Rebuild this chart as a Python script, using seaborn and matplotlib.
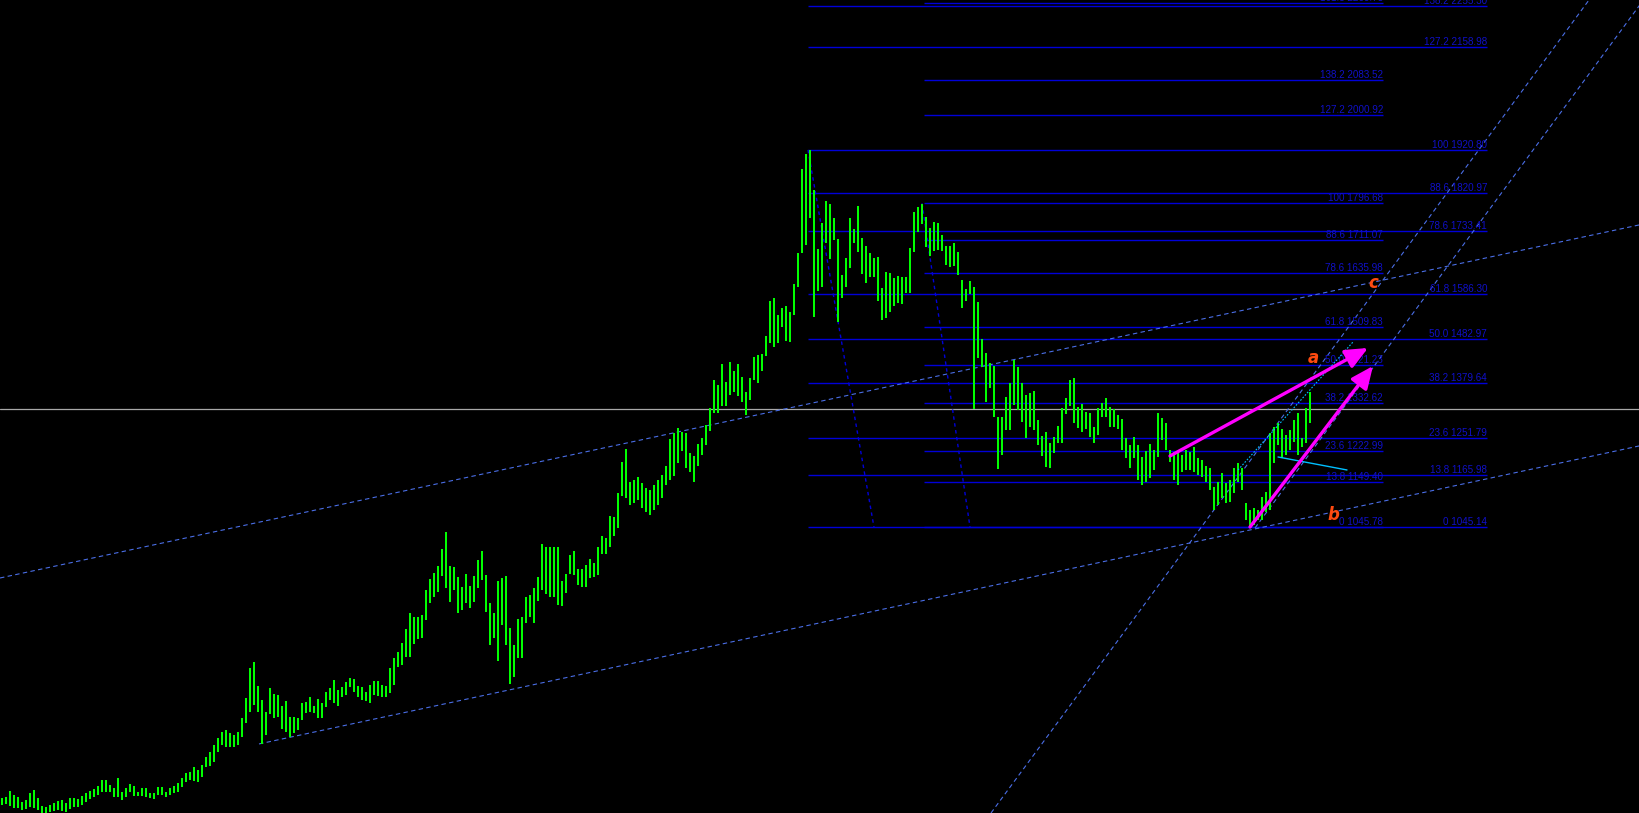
import matplotlib
matplotlib.use('Agg')
from matplotlib import pyplot as plt
import seaborn as sns
import numpy as np

# bar highs / lows (one bar every 4 px of the original chart)
HIGHS = [417, 419, 433, 424, 419, 408, 412, 429, 436, 417, 398, 396, 401, 405, 410, 412, 405, 417, 417, 415,
         422, 429, 433, 438, 445, 459, 459, 447, 440, 463, 431, 440, 449, 445, 431, 440, 440, 429, 429, 443,
         443, 431, 440, 445, 452, 463, 475, 477, 489, 482, 494, 512, 524, 540, 556, 570, 575, 568, 563, 570,
         603, 649, 719, 733, 677, 644, 617, 672, 658, 656, 630, 642, 605, 605, 603, 637, 640, 651, 630, 647,
         637, 663, 672, 691, 668, 675, 686, 695, 693, 677, 675, 663, 679, 688, 688, 679, 677, 719, 742, 756,
         777, 809, 846, 837, 837, 842, 900, 925, 939, 955, 995, 1034, 955, 953, 930, 907, 937, 909, 932, 969,
         990, 934, 870, 846, 921, 928, 932, 812, 772, 832, 837, 883, 888, 904, 930, 1006, 999, 999, 999, 999,
         921, 937, 981, 990, 948, 948, 958, 972, 962, 999, 1025, 1020, 1071, 1069, 1125, 1197, 1227, 1150, 1155, 1162,
         1148, 1136, 1132, 1143, 1155, 1167, 1187, 1250, 1264, 1276, 1266, 1264, 1218, 1211, 1238, 1252, 1283, 1322, 1387, 1375,
         1424, 1382, 1429, 1408, 1424, 1394, 1359, 1392, 1440, 1445, 1447, 1489, 1570, 1577, 1538, 1554, 1559, 1545, 1610, 1682,
         1877, 1911, 1920, 1828, 1691, 1751, 1802, 1795, 1763, 1714, 1631, 1670, 1763, 1737, 1791, 1716, 1698, 1682, 1670, 1672,
         1600, 1638, 1635, 1624, 1628, 1626, 1626, 1693, 1777, 1788, 1796, 1765, 1740, 1754, 1751, 1723, 1698, 1698, 1705, 1684,
         1619, 1598, 1617, 1603, 1568, 1482, 1450, 1426, 1419, 1301, 1301, 1348, 1380, 1433, 1417, 1380, 1352, 1357, 1361, 1294,
         1257, 1266, 1241, 1255, 1280, 1322, 1345, 1387, 1392, 1324, 1331, 1313, 1310, 1278, 1322, 1334, 1345, 1324, 1320, 1306,
         1296, 1252, 1236, 1255, 1236, 1208, 1222, 1238, 1225, 1310, 1299, 1287, 1225, 1220, 1220, 1213, 1225, 1220, 1232, 1206,
         1201, 1187, 1183, 1139, 1150, 1171, 1148, 1155, 1183, 1194, 1183, 1102, 1085, 1090, 1085, 1115, 1127, 1264, 1278, 1287,
         1273, 1259, 1271, 1294, 1310, 1252, 1322, 1359]
LOWS = [401, 402, 398, 394, 394, 389, 391, 396, 394, 389, 383, 383, 385, 387, 389, 387, 385, 391, 396, 396,
        401, 408, 415, 419, 424, 431, 431, 431, 419, 419, 412, 419, 431, 422, 422, 422, 419, 417, 415, 424,
        424, 419, 424, 429, 431, 443, 454, 459, 456, 454, 466, 489, 491, 501, 524, 540, 535, 535, 535, 540,
        559, 591, 617, 633, 617, 542, 563, 612, 603, 605, 577, 570, 559, 568, 575, 598, 614, 617, 614, 603,
        603, 628, 644, 637, 630, 651, 656, 675, 663, 651, 644, 642, 637, 656, 654, 651, 651, 661, 679, 721,
        726, 744, 744, 774, 786, 788, 830, 870, 883, 895, 932, 904, 872, 900, 846, 853, 870, 858, 872, 904,
        923, 849, 772, 788, 735, 819, 772, 682, 698, 742, 742, 823, 837, 823, 874, 900, 890, 883, 883, 865,
        863, 893, 937, 934, 911, 907, 907, 928, 930, 934, 983, 983, 999, 1025, 1044, 1118, 1113, 1097, 1102, 1109,
        1090, 1081, 1074, 1085, 1097, 1113, 1143, 1155, 1164, 1194, 1222, 1183, 1174, 1150, 1187, 1213, 1236, 1269, 1310, 1310,
        1327, 1327, 1352, 1359, 1350, 1336, 1306, 1341, 1387, 1380, 1408, 1443, 1473, 1464, 1473, 1510, 1477, 1475, 1538, 1603,
        1682, 1700, 1763, 1533, 1593, 1603, 1705, 1668, 1712, 1522, 1577, 1603, 1647, 1705, 1684, 1633, 1612, 1626, 1626, 1570,
        1526, 1531, 1545, 1559, 1566, 1563, 1589, 1589, 1684, 1730, 1749, 1696, 1675, 1686, 1689, 1686, 1654, 1649, 1651, 1631,
        1554, 1570, 1586, 1320, 1438, 1417, 1336, 1368, 1301, 1180, 1213, 1271, 1271, 1329, 1317, 1290, 1252, 1278, 1271, 1236,
        1211, 1185, 1183, 1218, 1241, 1241, 1308, 1327, 1287, 1276, 1266, 1273, 1255, 1241, 1259, 1301, 1301, 1278, 1278, 1273,
        1225, 1206, 1183, 1206, 1155, 1143, 1150, 1160, 1178, 1208, 1248, 1225, 1197, 1155, 1143, 1174, 1178, 1178, 1174, 1167,
        1162, 1150, 1132, 1085, 1097, 1113, 1102, 1104, 1125, 1150, 1132, 1062, 1045, 1051, 1062, 1062, 1081, 1085, 1194, 1236,
        1206, 1213, 1225, 1243, 1213, 1232, 1241, 1287]

BID_PRICE = 1319.6

# fibonacci set drawn from the 1920.80 high
FIB_A_LEVELS = ["0", "13.8", "23.6", "38.2", "50.0", "61.8", "78.6", "88.6", "100", "127.2", "138.2"]
FIB_A_PRICES = [1045.14, 1165.98, 1251.79, 1379.64, 1482.97, 1586.30, 1733.41, 1820.97, 1920.80, 2158.98, 2255.30]
FIB_A_SPAN = (201.5, 371.25)
FIB_A_ANCHORS = [(201.5, 1920.80), (218.0, 1045.14)]

# fibonacci set drawn from the 1796.68 high
FIB_B_LEVELS = ["0", "13.8", "23.6", "38.2", "50.0", "61.8", "78.6", "88.6", "100", "127.2", "138.2", "161.8"]
FIB_B_PRICES = [1045.78, 1149.40, 1222.99, 1332.62, 1421.23, 1509.83, 1635.98, 1711.07, 1796.68, 2000.92, 2083.52, 2260.73]
FIB_B_SPAN = (230.5, 345.25)
FIB_B_ANCHORS = [(230.0, 1796.68), (242.0, 1045.78)]

# trend lines: (bar, price) pairs
CHANNEL_TOP = [(-0.5, 927.5), (409.25, 1746.6)]
CHANNEL_BOTTOM = [(64.25, 542.4), (409.25, 1233.8)]
STEEP_LINE = [(247.25, 382.2), (396.75, 2268.6)]
STEEP_RAY = [(313.25, 1043.5), (374.5, 1816.2)]
CYAN_DOTTED = [(309.0, 1178.1), (337.75, 1475.1)]
CYAN_SOLID = [(319.0, 1208.3), (336.25, 1178.1)]
ARROWS = [((292.0, 1210.6), (341.5, 1461.2)), ((312.0, 1045.8), (342.75, 1419.4))]
WAVE_LABELS = ["a", "b", "c"]
WAVE_POS = [(327.75, 1438.0), (332.75, 1073.7), (342.75, 1612.0)]

sns.set_theme(style='dark', rc={'axes.facecolor': 'black', 'figure.facecolor': 'black'})
plt.rcParams['font.family'] = ['Liberation Sans', 'DejaVu Sans']

fig = plt.figure(figsize=(16.39, 8.13), dpi=100)
ax = fig.add_axes([0, 0, 1, 1])
ax.set_facecolor('black')

bar_idx = np.arange(len(HIGHS))
ax.vlines(bar_idx, LOWS, HIGHS, color='#00ff00', lw=1.44, antialiased=False, zorder=3)

ax.axhline(BID_PRICE, color='#a8a8a8', lw=0.9, zorder=2)

fib_color = '#0000d8'
for levels, prices, span, anchors in [(FIB_A_LEVELS, FIB_A_PRICES, FIB_A_SPAN, FIB_A_ANCHORS),
                                      (FIB_B_LEVELS, FIB_B_PRICES, FIB_B_SPAN, FIB_B_ANCHORS)]:
    ax.hlines(prices, span[0], span[1], color=fib_color, lw=1.0, zorder=2)
    for lvl, p in zip(levels, prices):
        ax.annotate(f"{lvl} {p:.2f}", xy=(span[1], p), xytext=(0, 1.5), textcoords='offset points',
                    ha='right', va='baseline', fontsize=7.1, color='#1010c8', zorder=4)
    (x0, y0), (x1, y1) = anchors
    ax.plot([x0, x1], [y0, y1], color=fib_color, lw=1.0, linestyle=(0, (2.5, 2.5)), zorder=2)

dash_color = '#4a6ee6'
ax.axline(CHANNEL_TOP[0], CHANNEL_TOP[1], color=dash_color, lw=0.8, linestyle=(0, (4, 3)), zorder=2)
ax.axline(STEEP_LINE[0], STEEP_LINE[1], color=dash_color, lw=0.8, linestyle=(0, (4, 3)), zorder=2)
for ray in [CHANNEL_BOTTOM, STEEP_RAY]:
    (x0, y0), (x1, y1) = ray
    slope = (y1 - y0) / (x1 - x0)
    ax.plot([x0, 600], [y0, y0 + slope * (600 - x0)], color=dash_color, lw=0.8,
            linestyle=(0, (4, 3)), zorder=2)

(x0, y0), (x1, y1) = CYAN_DOTTED
ax.plot([x0, x1], [y0, y1], color='#00bfff', lw=0.8, linestyle=(0, (1.5, 1.5)), zorder=4)
(x0, y0), (x1, y1) = CYAN_SOLID
ax.plot([x0, x1], [y0, y1], color='#00bfff', lw=1.0, zorder=4)

for start, end in ARROWS:
    ax.annotate('', xy=end, xytext=start,
                arrowprops=dict(arrowstyle='-|>,head_length=0.9,head_width=0.4', color='#ff00ff',
                                lw=2.4, mutation_scale=15, shrinkA=0, shrinkB=0), zorder=5)

for lab, (x, y) in zip(WAVE_LABELS, WAVE_POS):
    ax.text(x, y, lab, color='#ff4a10', fontsize=12, fontweight='bold', fontstyle='italic',
            family=['DejaVu Sans'], ha='center', va='center', zorder=6)

ax.set_xlim(-0.5, 409.25)
ax.set_ylim(382.2, 2268.6)
ax.axis('off')

fig.savefig('out.png', dpi=100, facecolor='black')
